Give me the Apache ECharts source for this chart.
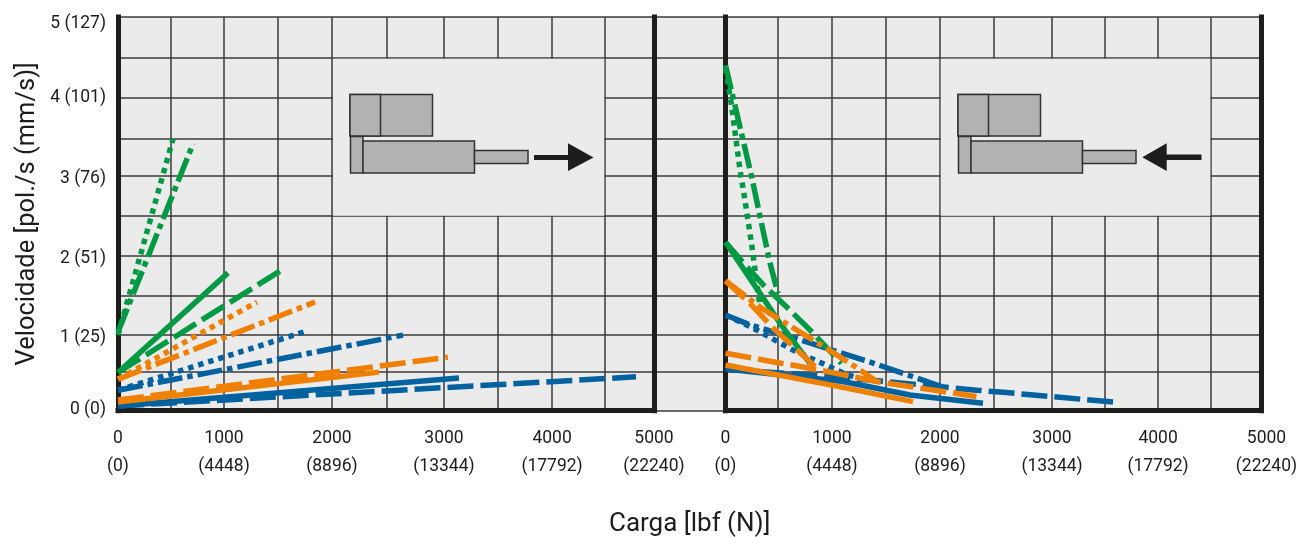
<!DOCTYPE html>
<html><head><meta charset="utf-8">
<style>html,body{margin:0;padding:0;background:#fff}#c{width:1298px;height:537px}</style>
<script src="https://cdn.jsdelivr.net/npm/echarts@6/dist/echarts.min.js"></script>
</head><body><div id="c"></div>
<script>
// tick labels
const yTickLabels = ['0 (0)','1 (25)','2 (51)','3 (76)','4 (101)','5 (127)'];
const xTickLbf = ['0','1000','2000','3000','4000','5000'];
const xTickN = ['(0)','(4448)','(8896)','(13344)','(17792)','(22240)'];
// hand-drawn grid positions, in axis units
const yGridValues = [0,0.49,0.96,1.46,1.965,2.47,2.99,3.46,3.97,4.48,5];
const yLabelValues = [0.012,0.925,1.93,2.945,3.975,4.91];
const xGridLeft = [0,494,989,1493,1996,2509,3041,3545,4049,4543,5000];
const xGridRight = [0,490,993,1497,2001,2505,3046,3540,4035,4529,5000];
// extension (left panel): [lbf, pol/s]
const extGreenDotted = [[0,0.96],[513,3.45]];
const extGreenDashDot = [[0,1.0],[700,3.39]];
const extGreenSolid = [[0,0.485],[1026,1.75]];
const extGreenDash = [[0,0.485],[1530,1.79]];
const extOrangeDotted = [[0,0.40],[1297,1.38]];
const extOrangeDashDot = [[0,0.40],[1838,1.38]];
const extBlueDotted = [[0,0.26],[1735,1.0]];
const extBlueDashDot = [[0,0.26],[2659,0.96]];
const extBlueSolid = [[0,0.06],[3181,0.415]];
const extBlueDash = [[0,0.06],[4832,0.43]];
const extOrangeSolid = [[0,0.11],[2435,0.49]];
const extOrangeDash = [[0,0.135],[3078,0.68]];
// retraction (right panel)
const retGreenDotted = [[0,4.35],[58,3.86],[135,3.06],[181,2.68],[244,2.11],[322,1.32]];
const retGreenDashDot = [[0,4.39],[244,2.97],[415,1.875],[490,1.49]];
const retGreenSolid = [[0,2.14],[322,1.49],[508,1.11],[788,0.60]];
const retGreenDash = [[0,2.14],[210,1.81],[369,1.575],[583,1.30],[788,1.025],[1084,0.60]];
const retBlueDotted = [[0,1.215],[257,1.05],[630,0.77],[1097,0.48],[1283,0.39]];
const retBlueDashDot = [[0,1.215],[229,1.09],[757,0.875],[1376,0.605],[2030,0.30]];
const retBlueDash = [[0,0.53],[1097,0.42],[1970,0.31],[2343,0.26],[2623,0.23],[3615,0.11]];
const retBlueSolid = [[0,0.53],[1097,0.37],[1720,0.2],[2402,0.095]];
const retOrangeDash = [[0,1.65],[244,1.34],[443,1.05],[648,0.80],[835,0.56]];
const retOrangeDashDot = [[0,1.65],[338,1.30],[664,1.025],[990,0.75],[1208,0.56],[1410,0.37]];
const retOrangeDashLow = [[0,0.73],[490,0.61],[788,0.54],[1410,0.37],[2341,0.18]];
const retOrangeSolid = [[0,0.58],[990,0.325],[1749,0.115]];

const GREEN='#009a44', BLUE='#00629f', ORANGE='#f08000', INK='#1d1d1b', GRIDC='#3a3a3a';
const FONT='Roboto';
const TICK=17.5;
const SOLID='solid', DASH=[26,7], DOT=[5.5,5], DASHDOT=[25,5,5.5,5];
const W=5.5;
function s(name,panel,data,color,type){
  return {name,type:'line',xAxisIndex:panel,yAxisIndex:panel,data,symbol:'none',silent:true,z:5,
    lineStyle:{color,width:W,type,cap:'butt',join:'bevel'},animation:false};
}
const series=[
  s('eBlueSolid',0,extBlueSolid,BLUE,SOLID), s('eBlueDash',0,extBlueDash,BLUE,DASH),
  s('eBlueDotted',0,extBlueDotted,BLUE,DOT), s('eBlueDashDot',0,extBlueDashDot,BLUE,DASHDOT),
  s('eGreenDotted',0,extGreenDotted,GREEN,DOT), s('eGreenDashDot',0,extGreenDashDot,GREEN,DASHDOT),
  s('eGreenSolid',0,extGreenSolid,GREEN,SOLID), s('eGreenDash',0,extGreenDash,GREEN,DASH),
  s('eOrangeDotted',0,extOrangeDotted,ORANGE,DOT), s('eOrangeDashDot',0,extOrangeDashDot,ORANGE,DASHDOT),
  s('eOrangeSolid',0,extOrangeSolid,ORANGE,SOLID), s('eOrangeDash',0,extOrangeDash,ORANGE,DASH),
  s('rBlueSolid',1,retBlueSolid,BLUE,SOLID), s('rBlueDash',1,retBlueDash,BLUE,DASH),
  s('rBlueDashDot',1,retBlueDashDot,BLUE,DASHDOT), s('rBlueDotted',1,retBlueDotted,BLUE,DOT),
  s('rGreenDotted',1,retGreenDotted,GREEN,DOT), s('rGreenDashDot',1,retGreenDashDot,GREEN,DASHDOT),
  s('rGreenSolid',1,retGreenSolid,GREEN,SOLID), s('rGreenDash',1,retGreenDash,GREEN,DASH),
  s('rOrangeDash',1,retOrangeDash,ORANGE,DASH), s('rOrangeDashDot',1,retOrangeDashDot,ORANGE,DASHDOT),
  s('rOrangeDashLow',1,retOrangeDashLow,ORANGE,DASH), s('rOrangeSolid',1,retOrangeSolid,ORANGE,SOLID)
];
const thick={show:true,onZero:false,lineStyle:{color:INK,width:5,cap:'square'}};
const gridLine={show:true,lineStyle:{color:GRIDC,width:1.5}};
function xAx(gridIndex,grid,labelFmt){
  return {type:'value',gridIndex,min:0,max:5000,axisLine:thick,
    axisTick:{show:false,customValues:grid},splitLine:gridLine,
    axisLabel:{show:true,customValues:[0,grid[2],grid[4],grid[6],grid[8],5000],
      margin:14,color:INK,fontFamily:FONT,fontSize:TICK,lineHeight:28,
      hideOverlap:false,alignMinLabel:'center',alignMaxLabel:'center',
      formatter:labelFmt,
      rich:{sh:{padding:[0,0,0,10],fontFamily:FONT,fontSize:TICK,lineHeight:28,color:INK}}}};
}
const fmt=g=>(v)=>{const i=g.indexOf(v);const k=[0,2,4,6,8,10].indexOf(i);return xTickLbf[k]+'\n'+xTickN[k];};
const fmtR=g=>(v)=>{const i=g.indexOf(v);const k=[0,2,4,6,8,10].indexOf(i);
  return k===5?'{sh|'+xTickLbf[k]+'}\n{sh|'+xTickN[k]+'}':xTickLbf[k]+'\n'+xTickN[k];};
const yBase={type:'value',min:0,max:5,splitLine:{show:false},axisTick:{show:false},axisLabel:{show:false}};

function inset(dx,dir){
  const st={fill:'#b2b2b2',stroke:'#333',lineWidth:1.5};
  const R=(x,y,w,h)=>({type:'rect',z:3,silent:true,shape:{x:x+dx,y,width:w,height:h},style:st});
  const P=(pts)=>({type:'polygon',z:3,silent:true,shape:{points:pts},style:{fill:INK}});
  const items=[R(350,94.5,82.5,41.5),R(350,94.5,30.5,41.5),R(350.5,136.5,12.5,36.5),R(363,141,111.5,32),R(474.5,150.5,53.5,13)];
  if(dir>0){
    items.push(P([[534,155],[568,155],[568,143.3],[593.5,157.5],[568,171],[568,160],[534,160]]));
  }else{
    items.push(P([[1201.5,154.5],[1166.7,154.5],[1166.7,143.3],[1142.3,157.3],[1166.7,171],[1166.7,160],[1201.5,160]]));
  }
  return items;
}
const mask=(x,w)=>({type:'rect',z:2,silent:true,shape:{x,y:58.8,width:w,height:157},style:{fill:'#ebebeb'}});

const chart=echarts.init(document.getElementById('c'),null,{renderer:'canvas'});
chart.setOption({
  animation:false,
  backgroundColor:'#fff',
  grid:[
    {left:118,top:17,width:536,height:393.7,outerBoundsMode:'none'},
    {left:725.5,top:17,width:536,height:393.7,outerBoundsMode:'none'},
    {left:118,top:17,width:1143.5,height:393.7,show:true,backgroundColor:'#ebebeb',borderWidth:0,z:-1,outerBoundsMode:'none'}
  ],
  xAxis:[
    xAx(0,xGridLeft,fmt(xGridLeft)),
    xAx(1,xGridRight,fmtR(xGridRight)),
    {type:'value',gridIndex:2,min:0,max:1,axisLine:{show:false},axisTick:{show:false},axisLabel:{show:false},splitLine:{show:false},
     name:'Carga [lbf (N)]',nameLocation:'middle',nameGap:101,
     nameTextStyle:{color:INK,fontFamily:FONT,fontSize:26}}
  ],
  yAxis:[
    Object.assign({},yBase,{gridIndex:0,axisLine:thick,
      axisLabel:{show:true,customValues:yLabelValues,margin:12,color:INK,fontFamily:FONT,fontSize:TICK,
        verticalAlignMinLabel:'middle',verticalAlignMaxLabel:'middle',
        formatter:(v)=>yTickLabels[yLabelValues.indexOf(v)]},
      name:'Velocidade [pol./s (mm/s)]',nameLocation:'middle',nameGap:77,
      nameTextStyle:{color:INK,fontFamily:FONT,fontSize:25.5}}),
    Object.assign({},yBase,{gridIndex:1,axisLine:thick}),
    {type:'value',gridIndex:2,min:0,max:5,axisLine:{show:false},axisLabel:{show:false},
      axisTick:{show:false,customValues:yGridValues},splitLine:gridLine},
    Object.assign({},yBase,{gridIndex:0,position:'right',axisLine:thick}),
    Object.assign({},yBase,{gridIndex:1,position:'right',axisLine:thick})
  ],
  graphic:{elements:[
    mask(333,271.2),mask(940.8,269.5),
    ...inset(0,1),...inset(608,-1)
  ]},
  series
});
</script></body></html>
